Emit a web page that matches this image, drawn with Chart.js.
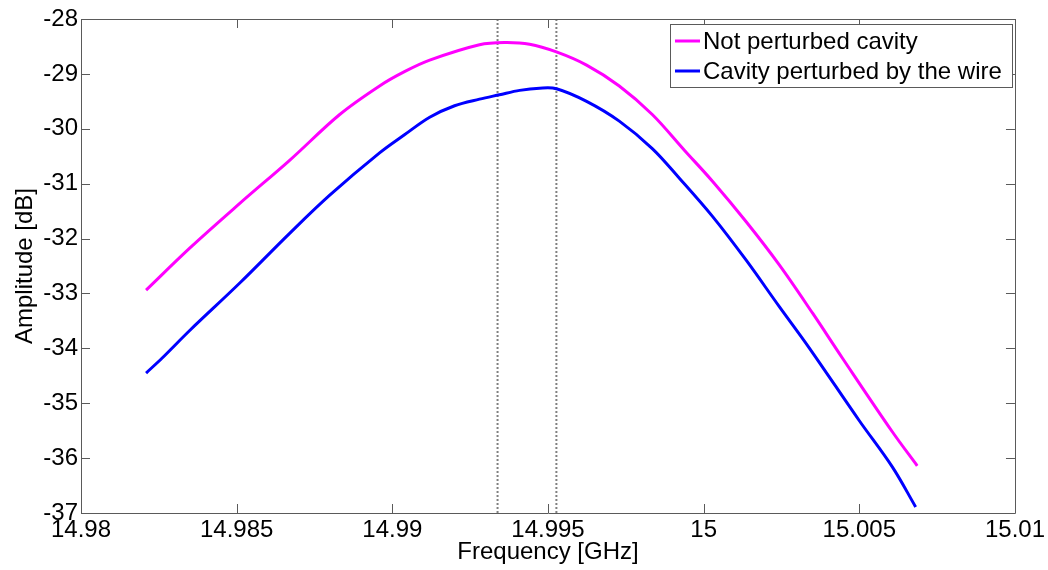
<!DOCTYPE html>
<html>
<head>
<meta charset="utf-8">
<script src="https://cdn.jsdelivr.net/npm/chart.js@4.4.1/dist/chart.umd.min.js"></script>
<style>
  html, body { margin: 0; padding: 0; background: #ffffff; }
  #wrap { width: 1048px; height: 570px; }
</style>
</head>
<body>
<div id="wrap"><canvas id="chartCavity"></canvas></div>
<script>
// frequency [GHz] / amplitude [dB]
var freqFree = [14.98209, 14.98350, 14.98510, 14.98671, 14.98831, 14.98959, 14.99039, 14.99120, 14.99280, 14.99360,
    14.99441, 14.99527, 14.99624, 14.99729, 14.99835, 14.99938, 15.00029, 15.00136, 15.00243, 15.00350,
    15.00446, 15.00606, 15.00686];
var ampFree = [-32.94, -32.17, -31.36, -30.57, -29.74, -29.22, -28.96, -28.75, -28.47, -28.43,
    -28.46, -28.60, -28.84, -29.22, -29.74, -30.39, -30.96, -31.69, -32.48, -33.36,
    -34.18, -35.52, -36.14];

var freqWire = [14.98209, 14.98260, 14.98350, 14.98510, 14.98671, 14.98799, 14.98959, 14.99039, 14.99120, 14.99200,
    14.99280, 14.99344, 14.99409, 14.99473, 14.99527, 14.99624, 14.99729, 14.99835, 14.99922, 15.00029,
    15.00136, 15.00243, 15.00339, 15.00499, 15.00606, 15.00681];
var ampWire = [-34.45, -34.18, -33.67, -32.81, -31.90, -31.21, -30.44, -30.11, -29.79, -29.58,
    -29.46, -29.38, -29.30, -29.26, -29.27, -29.50, -29.86, -30.36, -30.90, -31.60,
    -32.39, -33.24, -33.99, -35.31, -36.16, -36.89];

// the two dotted markers
var markerFreqs = [14.99338, 14.99527];

var xTickVals = [14.98, 14.985, 14.99, 14.995, 15, 15.005, 15.01];
var xTickLabels = ['14.98', '14.985', '14.99', '14.995', '15', '15.005', '15.01'];
var yTickVals = [-37, -36, -35, -34, -33, -32, -31, -30, -29, -28];

var seriesNames = ['Not perturbed cavity', 'Cavity perturbed by the wire'];
var seriesColors = ['#ff00ff', '#0000ff'];

var FONT = "'Liberation Sans', Arial, sans-serif";
var AXIS_COLOR = '#5a5a5a';

function toPoints(xs, ys) {
    var pts = [];
    for (var i = 0; i < xs.length; i++) {
        pts.push({ x: xs[i], y: ys[i] });
    }
    return pts;
}

var datasets = [
    {
        label: seriesNames[0],
        data: toPoints(freqFree, ampFree),
        borderColor: seriesColors[0],
        borderWidth: 3,
        pointRadius: 0,
        tension: 0.35,
        fill: false
    },
    {
        label: seriesNames[1],
        data: toPoints(freqWire, ampWire),
        borderColor: seriesColors[1],
        borderWidth: 3,
        pointRadius: 0,
        tension: 0.35,
        fill: false
    }
];
for (var m = 0; m < markerFreqs.length; m++) {
    datasets.push({
        label: 'marker' + m,
        data: [{ x: markerFreqs[m], y: -37 }, { x: markerFreqs[m], y: -28 }],
        borderColor: '#808080',
        borderWidth: 2,
        borderDash: [2, 2],
        pointRadius: 0,
        fill: false
    });
}

// frame, inward ticks on all four sides, and the boxed legend
const framePlugin = {
    id: 'frame',
    afterDatasetsDraw: function (chart) {
        var ctx = chart.ctx;
        var a = chart.chartArea;
        var xs = chart.scales.x;
        var ys = chart.scales.y;
        var tl = 9;
        ctx.save();
        ctx.strokeStyle = AXIS_COLOR;
        ctx.lineWidth = 1;
        ctx.beginPath();
        ctx.rect(Math.round(a.left) + 0.5, Math.round(a.top) + 0.5,
            Math.round(a.right - a.left), Math.round(a.bottom - a.top));
        ctx.stroke();
        ctx.beginPath();
        xTickVals.forEach(function (v) {
            var px = Math.round(xs.getPixelForValue(v)) + 0.5;
            ctx.moveTo(px, a.bottom); ctx.lineTo(px, a.bottom - tl);
            ctx.moveTo(px, a.top); ctx.lineTo(px, a.top + tl);
        });
        yTickVals.forEach(function (v) {
            var py = Math.round(ys.getPixelForValue(v)) + 0.5;
            ctx.moveTo(a.left, py); ctx.lineTo(a.left + tl, py);
            ctx.moveTo(a.right, py); ctx.lineTo(a.right - tl, py);
        });
        ctx.stroke();

        // legend box
        var bx = 670.5, by = 24.5, bw = 342, bh = 63;
        ctx.fillStyle = '#ffffff';
        ctx.fillRect(bx, by, bw, bh);
        ctx.strokeStyle = AXIS_COLOR;
        ctx.strokeRect(bx, by, bw, bh);
        ctx.font = '24px ' + FONT;
        ctx.textBaseline = 'middle';
        ctx.textAlign = 'left';
        for (var i = 0; i < seriesNames.length; i++) {
            var ly = 41 + i * 30;
            ctx.strokeStyle = seriesColors[i];
            ctx.lineWidth = 3;
            ctx.beginPath();
            ctx.moveTo(675, ly); ctx.lineTo(700, ly);
            ctx.stroke();
            ctx.fillStyle = '#000000';
            ctx.fillText(seriesNames[i], 703, ly + 1);
        }
        ctx.restore();
    }
};

const ctx = document.getElementById('chartCavity').getContext('2d');
const myChart = new Chart(ctx, {
    type: 'line',
    data: { datasets: datasets },
    plugins: [framePlugin],
    options: {
        responsive: true,
        maintainAspectRatio: false,
        animation: false,
        layout: { padding: { top: 19, right: 32, left: 0, bottom: 0 } },
        plugins: {
            legend: { display: false },
            tooltip: { enabled: false }
        },
        scales: {
            x: {
                type: 'linear',
                min: 14.98,
                max: 15.01,
                afterFit: function (scale) { scale.height = 57; },
                afterBuildTicks: function (scale) {
                    scale.ticks = xTickVals.map(function (v) { return { value: v }; });
                },
                grid: { display: false, drawTicks: false },
                border: { display: false },
                ticks: {
                    color: '#000000',
                    padding: 3,
                    maxRotation: 0,
                    autoSkip: false,
                    font: { family: FONT, size: 24 },
                    callback: function (v, i) { return xTickLabels[i]; }
                },
                title: {
                    display: true,
                    text: 'Frequency [GHz]',
                    color: '#000000',
                    font: { family: FONT, size: 24 },
                    padding: { top: 0, bottom: 3 }
                }
            },
            y: {
                min: -37,
                max: -28,
                afterFit: function (scale) { scale.width = 81; },
                afterBuildTicks: function (scale) {
                    scale.ticks = yTickVals.map(function (v) { return { value: v }; });
                },
                grid: { display: false, drawTicks: false },
                border: { display: false },
                ticks: {
                    color: '#000000',
                    padding: 3,
                    autoSkip: false,
                    font: { family: FONT, size: 24 },
                    callback: function (v) { return String(v); }
                },
                title: {
                    display: true,
                    text: 'Amplitude [dB]',
                    color: '#000000',
                    font: { family: FONT, size: 24 },
                    padding: { top: 11, bottom: 0 }
                }
            }
        }
    }
});
</script>
</body>
</html>
